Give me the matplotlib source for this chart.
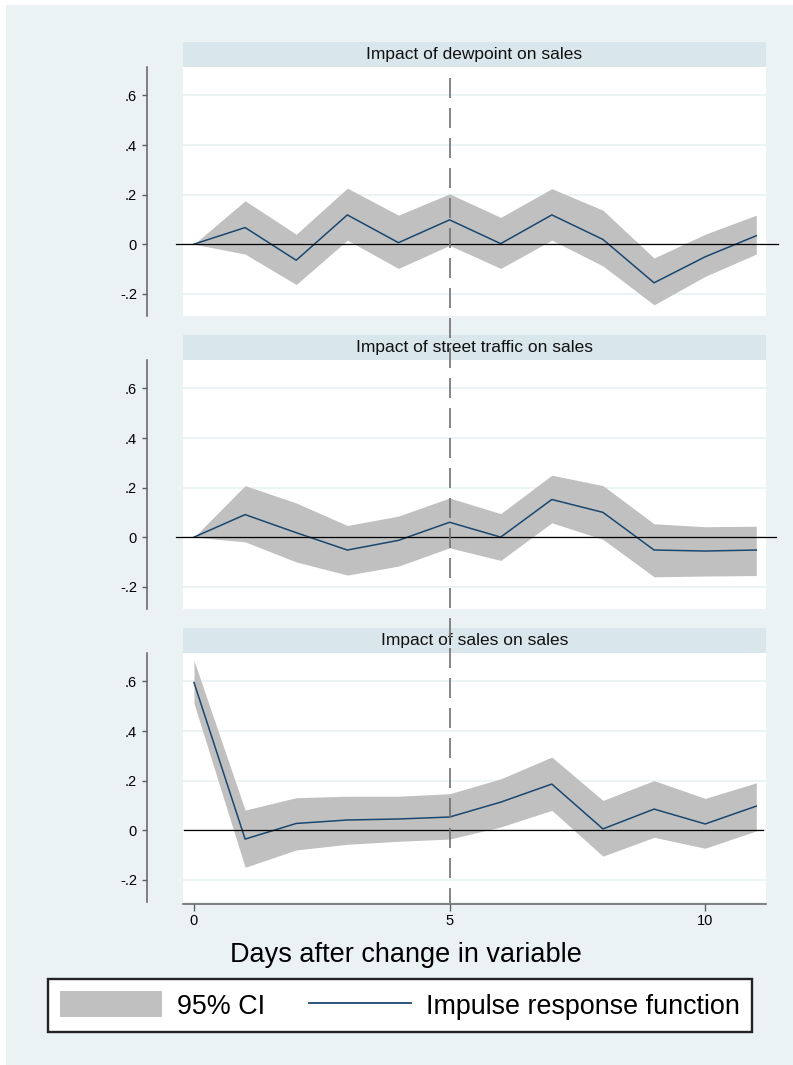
import numpy as np
import matplotlib
matplotlib.use("Agg")
import matplotlib.pyplot as plt
from matplotlib.patches import Rectangle, Patch
from matplotlib.lines import Line2D
from matplotlib import transforms

plt.rcParams['font.family'] = ['Liberation Sans', 'DejaVu Sans']

# data
steps = np.arange(12)

titles = ["Impact of dewpoint on sales",
          "Impact of street traffic on sales",
          "Impact of sales on sales"]

irf_dew = [0, 0.067, -0.065, 0.118, 0.006, 0.098, 0.002, 0.118, 0.019, -0.156, -0.051, 0.034]
hi_dew = [0, 0.175, 0.040, 0.226, 0.117, 0.203, 0.108, 0.224, 0.137, -0.056, 0.040, 0.117]
lo_dew = [0, -0.040, -0.163, 0.016, -0.098, -0.005, -0.098, 0.016, -0.088, -0.245, -0.130, -0.040]

irf_traf = [0, 0.091, 0.018, -0.052, -0.013, 0.060, 0.0, 0.152, 0.100, -0.052, -0.056, -0.052]
hi_traf = [0, 0.208, 0.138, 0.047, 0.085, 0.158, 0.095, 0.250, 0.208, 0.054, 0.042, 0.044]
lo_traf = [0, -0.019, -0.100, -0.153, -0.117, -0.043, -0.094, 0.058, -0.009, -0.160, -0.157, -0.155]

irf_sales = [0.596, -0.036, 0.027, 0.041, 0.045, 0.053, 0.113, 0.186, 0.005, 0.085, 0.025, 0.097]
hi_sales = [0.685, 0.081, 0.131, 0.137, 0.137, 0.147, 0.207, 0.295, 0.120, 0.200, 0.128, 0.191]
lo_sales = [0.512, -0.150, -0.080, -0.057, -0.045, -0.036, 0.013, 0.080, -0.105, -0.029, -0.073, -0.003]

irfs = [irf_dew, irf_traf, irf_sales]
his = [hi_dew, hi_traf, hi_sales]
los = [lo_dew, lo_traf, lo_sales]

yticks = [-0.2, 0, 0.2, 0.4, 0.6]
ytick_labels = ["-.2", "0", ".2", ".4", ".6"]
xticks = [0, 5, 10]
xtick_labels = ["0", "5", "10"]
shock_day = 5

bg = "#eaf2f3"
strip_col = "#d9e6eb"
ci_col = "#c0c0c0"
irf_col = "#1a476f"
axis_col = "#606060"

W, H = 793, 1065
fig = plt.figure(figsize=(W / 100, H / 100), dpi=100)
fig.patch.set_facecolor("white")
fig.add_artist(Rectangle((6 / W, 0), 1 - 6 / W, 1 - 5 / H, transform=fig.transFigure,
                         facecolor=bg, edgecolor="none", zorder=-10))

left, width = 183 / W, 583 / W
tops = [67, 360, 653]
ph = 249
zero_ext = [(-0.012, 1.02), (-0.012, 1.017), (0.002, 0.995)]

axes = []
for i in range(3):
    ax = fig.add_axes([left, 1 - (tops[i] + ph) / H, width, ph / H])
    ax.set_facecolor("white")
    ax.fill_between(steps, los[i], his[i], color=ci_col, lw=0, zorder=2)
    ax.plot(steps, irfs[i], color=irf_col, lw=1.1, zorder=3)
    ax.axhline(0, xmin=zero_ext[i][0], xmax=zero_ext[i][1], color="black", lw=0.9,
               zorder=4, clip_on=False)
    ax.set_xlim(-0.215, 11.19)
    ax.set_ylim(-0.29, 0.715)
    ax.set_yticks(yticks, ytick_labels)
    ax.grid(axis="y", color=bg, lw=1.3, zorder=0)
    ax.set_axisbelow(True)
    for s in ["top", "right"]:
        ax.spines[s].set_visible(False)
    ax.spines["left"].set_position(("outward", 26))
    ax.spines["left"].set_color(axis_col)
    ax.spines["left"].set_linewidth(1.1)
    ax.tick_params(axis="y", length=3.6, width=1.0, color=axis_col, pad=3.5,
                   labelsize=10.5, labelcolor="black")
    if i < 2:
        ax.spines["bottom"].set_visible(False)
        ax.set_xticks([])
    else:
        ax.set_xticks(xticks, xtick_labels)
        ax.spines["bottom"].set_position(("outward", 1.5))
        ax.spines["bottom"].set_color(axis_col)
        ax.spines["bottom"].set_linewidth(1.1)
        ax.tick_params(axis="x", length=5, width=1.0, color=axis_col, pad=2,
                       labelsize=10.5)
    # title strip
    sh = 25 / ph
    ax.add_patch(Rectangle((0, 1), 1, sh, transform=ax.transAxes, facecolor=strip_col,
                           edgecolor="none", clip_on=False, zorder=1))
    ax.text(0.5, 1 + sh / 2, titles[i], transform=ax.transAxes, ha="center",
            va="center", fontsize=12.5, color="#111111")
    axes.append(ax)

# dashed line at the shock day across all panels
tr = transforms.blended_transform_factory(axes[2].transData, fig.transFigure)
fig.add_artist(Line2D([shock_day, shock_day], [1 - 78 / H, 1 - 903 / H], transform=tr,
                      color="#707070", lw=1.2, dashes=(12, 6), zorder=20))

fig.text(406 / W, 1 - 955 / H, "Days after change in variable", ha="center",
         va="center", fontsize=19.5)

handles = [Patch(facecolor=ci_col, edgecolor="none"),
           Line2D([], [], color=irf_col, lw=1.3)]
leg = fig.legend(handles, ["95% CI", "Impulse response function"], ncol=2,
                 loc="center", bbox_to_anchor=(400 / W, 1 - 1005.5 / H),
                 fontsize=19.4, frameon=True, fancybox=False, framealpha=1,
                 handlelength=3.8, handleheight=1.1, handletextpad=0.56,
                 columnspacing=1.6, borderpad=0.45, borderaxespad=0)
leg.get_frame().set_edgecolor("#222222")
leg.get_frame().set_linewidth(1.7)
leg.get_frame().set_facecolor("white")

fig.savefig("out.png", dpi=100)
